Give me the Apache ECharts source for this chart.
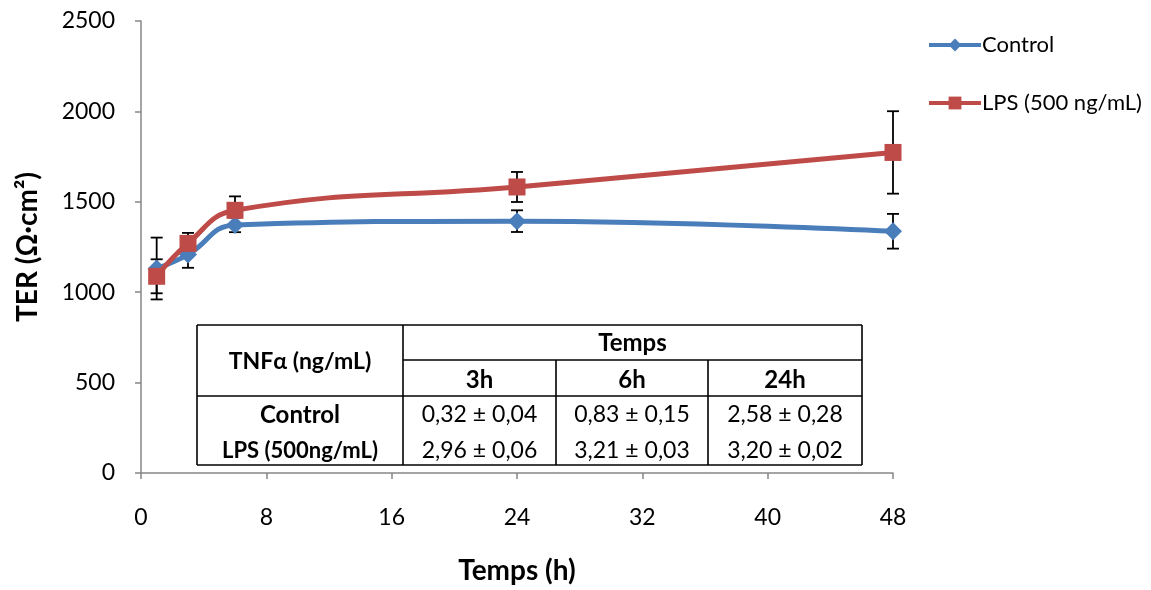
<!DOCTYPE html>
<html>
<head>
<meta charset="utf-8">
<script src="https://cdn.jsdelivr.net/npm/echarts@6/dist/echarts.min.js"></script>
<style>
  html, body { margin: 0; padding: 0; background: #fff; }
  #chart { width: 1151px; height: 590px; }
</style>
</head>
<body>
<div id="chart"></div>
<script>
// Transepithelial resistance over time (mean ± SD)
const hours = [1, 3, 6, 24, 48];
const controlTER = [1131, 1208, 1372, 1393, 1337];
const controlSD = [171, 73, 40, 60, 96];
const lpsTER = [1088, 1270, 1453, 1582, 1773];
const lpsSD = [94, 58, 77, 83, 228];

const seriesNames = ['Control', 'LPS (500 ng/mL)'];

// Inset table: TNFα (ng/mL) per time point
const tableTimes = ['3h', '6h', '24h'];
const tableRowNames = ['Control', 'LPS (500ng/mL)'];
const tnfControl = ['0,32 ± 0,04', '0,83 ± 0,15', '2,58 ± 0,28'];
const tnfLps = ['2,96 ± 0,06', '3,21 ± 0,03', '3,20 ± 0,02'];

const FONT = 'Lato, "Open Sans", sans-serif';
const BLUE = '#4a7ebb';
const RED = '#be4b48';

function errorBars(values, sds) {
  return hours.map((h, i) => [h, values[i], sds[i]]);
}

function renderErrorBar(params, api) {
  const x = api.value(0), y = api.value(1), e = api.value(2);
  const top = api.coord([x, y + e]);
  const bot = api.coord([x, y - e]);
  const w = 6;
  const style = { stroke: '#000', lineWidth: 1.8 };
  return {
    type: 'group',
    children: [
      { type: 'line', shape: { x1: top[0], y1: top[1], x2: bot[0], y2: bot[1] }, style },
      { type: 'line', shape: { x1: top[0] - w, y1: top[1], x2: top[0] + w, y2: top[1] }, style },
      { type: 'line', shape: { x1: bot[0] - w, y1: bot[1], x2: bot[0] + w, y2: bot[1] }, style }
    ]
  };
}

// Table layout (pixels)
const tx = [197, 403, 556, 708, 862];
const ty = [325, 360, 396, 465];
const rowY = [415, 451];

function hLine(x1, x2, y) {
  return { type: 'line', shape: { x1, y1: y, x2, y2: y }, style: { stroke: '#000', lineWidth: 1.6 }, z: 101 };
}
function vLine(x, y1, y2) {
  return { type: 'line', shape: { x1: x, y1, x2: x, y2 }, style: { stroke: '#000', lineWidth: 1.6 }, z: 101 };
}
function cellText(text, x, y, bold, size) {
  return {
    type: 'text', x, y, z: 102,
    style: {
      text, fill: '#000', font: (bold ? 'bold ' : '') + size + 'px ' + FONT,
      align: 'center', verticalAlign: 'middle'
    }
  };
}

const tableGraphics = [
  { type: 'rect', shape: { x: tx[0], y: ty[0], width: tx[4] - tx[0], height: ty[3] - ty[0] }, style: { fill: '#fff' }, z: 100 },
  hLine(tx[0], tx[4], ty[0]),
  hLine(tx[1], tx[4], ty[1]),
  hLine(tx[0], tx[4], ty[2]),
  hLine(tx[0], tx[4], ty[3]),
  vLine(tx[0], ty[0], ty[3]),
  vLine(tx[1], ty[0], ty[3]),
  vLine(tx[2], ty[1], ty[3]),
  vLine(tx[3], ty[1], ty[3]),
  vLine(tx[4], ty[0], ty[3]),
  cellText('TNFα (ng/mL)', (tx[0] + tx[1]) / 2, (ty[0] + ty[2]) / 2 + 1, true, 23),
  cellText('Temps', (tx[1] + tx[4]) / 2, (ty[0] + ty[1]) / 2 + 1, true, 24)
];
tableTimes.forEach((t, i) => {
  tableGraphics.push(cellText(t, (tx[i + 1] + tx[i + 2]) / 2, (ty[1] + ty[2]) / 2 + 2, true, 24));
  tableGraphics.push(cellText(tnfControl[i], (tx[i + 1] + tx[i + 2]) / 2, rowY[0], false, 23));
  tableGraphics.push(cellText(tnfLps[i], (tx[i + 1] + tx[i + 2]) / 2, rowY[1], false, 23));
});
tableRowNames.forEach((n, i) => {
  tableGraphics.push(cellText(n, (tx[0] + tx[1]) / 2, rowY[i], true, i === 0 ? 24 : 22));
});

const chart = echarts.init(document.getElementById('chart'));
chart.setOption({
  animation: false,
  backgroundColor: '#fff',
  textStyle: { fontFamily: FONT },
  grid: { left: 141, right: 258, top: 21, bottom: 116 },
  legend: {
    orient: 'vertical',
    left: 922,
    top: 29,
    itemWidth: 52,
    itemHeight: 16,
    itemGap: 36,
    lineStyle: { width: 4 },
    textStyle: { fontSize: 22, lineHeight: 22, color: '#000', fontFamily: FONT, padding: [0, 0, 0, -4] },
    data: seriesNames
  },
  xAxis: {
    type: 'value',
    min: 0, max: 48, interval: 8,
    name: 'Temps (h)',
    nameLocation: 'middle',
    nameGap: 84,
    nameTextStyle: { fontSize: 28, fontWeight: 'bold', color: '#000', fontFamily: FONT },
    axisLine: { lineStyle: { color: '#868686', width: 1.5 } },
    axisTick: { show: true, length: 6, lineStyle: { color: '#868686', width: 1.5 } },
    axisLabel: { fontSize: 23, color: '#000', margin: 33, fontFamily: FONT },
    splitLine: { show: false }
  },
  yAxis: {
    type: 'value',
    min: 0, max: 2500, interval: 500,
    name: 'TER (Ω·cm²)',
    nameLocation: 'middle',
    nameGap: 99,
    nameRotate: 90,
    nameTextStyle: { fontSize: 28, fontWeight: 'bold', color: '#000', fontFamily: FONT },
    axisLine: { show: true, lineStyle: { color: '#868686', width: 1.5 } },
    axisTick: { show: true, length: 6, lineStyle: { color: '#868686', width: 1.5 } },
    axisLabel: { fontSize: 23, color: '#000', margin: 26, fontFamily: FONT, formatter: v => String(v) },
    splitLine: { show: false }
  },
  series: [
    {
      name: seriesNames[0] + ' SD',
      type: 'custom',
      z: 1,
      renderItem: renderErrorBar,
      data: errorBars(controlTER, controlSD)
    },
    {
      name: seriesNames[1] + ' SD',
      type: 'custom',
      z: 1,
      renderItem: renderErrorBar,
      data: errorBars(lpsTER, lpsSD)
    },
    {
      name: seriesNames[0],
      type: 'line',
      z: 3,
      smooth: 0.45,
      data: hours.map((h, i) => [h, controlTER[i]]),
      symbol: 'diamond',
      symbolSize: 18,
      lineStyle: { color: BLUE, width: 5 },
      itemStyle: { color: BLUE }
    },
    {
      name: seriesNames[1],
      type: 'line',
      z: 4,
      smooth: 0.45,
      data: hours.map((h, i) => [h, lpsTER[i]]),
      symbol: 'rect',
      symbolSize: 17,
      lineStyle: { color: RED, width: 5 },
      itemStyle: { color: RED }
    }
  ],
  graphic: tableGraphics
});
</script>
</body>
</html>
